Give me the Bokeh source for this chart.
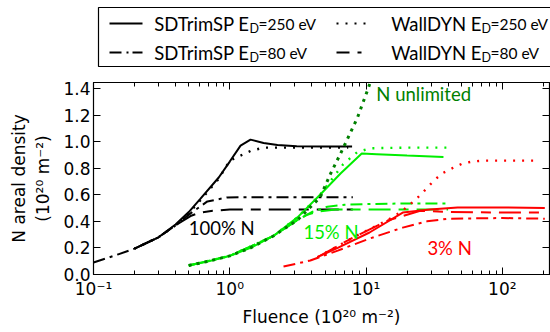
from bokeh.plotting import figure
from bokeh.models import (Range1d, FixedTicker, PrintfTickFormatter, CustomJSTickFormatter,
                          LogAxis, LinearAxis, ColumnDataSource)
from bokeh.layouts import column
from bokeh.core.properties import value
from bokeh.embed import file_html
from bokeh.resources import INLINE

# ---------------- data (fluence in 1e20 m^-2, N areal density in 1e20 m^-2) -------------
# 100 % N
n100_sd250_x = [0.2, 0.3, 0.4, 0.5, 0.61, 0.83, 1.0, 1.2, 1.42, 1.77, 2.24, 3.1, 5.0, 7.9]
n100_sd250_y = [0.195, 0.28, 0.376, 0.47, 0.571, 0.73, 0.85, 0.97, 1.015, 0.99, 0.975, 0.965, 0.963, 0.963]
n100_wd250_x = [0.2, 0.3, 0.4, 0.5, 0.61, 0.83, 1.0, 1.2, 1.42, 1.77, 2.5, 4.0, 7.4]
n100_wd250_y = [0.195, 0.28, 0.37, 0.46, 0.56, 0.72, 0.857, 0.895, 0.93, 0.955, 0.955, 0.955, 0.955]
n100_sd80_x = [0.1, 0.15, 0.2, 0.3, 0.4, 0.515, 0.685, 0.96, 1.5, 3.0, 8.0]
n100_sd80_y = [0.09, 0.15, 0.195, 0.28, 0.37, 0.46, 0.55, 0.58, 0.582, 0.582, 0.582]
n100_wd80_x = [0.2, 0.3, 0.4, 0.515, 0.6, 0.75, 1.0, 2.0, 8.0]
n100_wd80_y = [0.195, 0.28, 0.37, 0.44, 0.465, 0.48, 0.489, 0.489, 0.489]

# 15 % N
n15_unl_x = [0.5, 0.7, 1.0, 1.42, 2.09, 3.14, 4.6, 5.5, 6.5, 8.65, 10.2, 11.3]
n15_unl_y = [0.068, 0.1, 0.14, 0.2, 0.29, 0.41, 0.58, 0.76, 0.91, 1.18, 1.38, 1.51]
n15_sd250_x = [0.5, 0.7, 1.0, 1.42, 2.09, 3.14, 4.6, 6.5, 9.3, 12.0, 20.0, 37.0]
n15_sd250_y = [0.068, 0.1, 0.14, 0.2, 0.29, 0.43, 0.6, 0.76, 0.91, 0.905, 0.895, 0.885]
n15_wd250_x = [0.5, 1.0, 2.09, 3.14, 4.6, 6.8, 8.6, 10.7, 20.0, 40.0]
n15_wd250_y = [0.068, 0.14, 0.29, 0.43, 0.6, 0.83, 0.92, 0.95, 0.955, 0.955]
n15_sd80_x = [0.5, 1.0, 2.09, 3.14, 4.0, 5.2, 7.0, 10.0, 20.0, 40.0]
n15_sd80_y = [0.068, 0.14, 0.29, 0.41, 0.47, 0.51, 0.525, 0.53, 0.535, 0.535]
n15_wd80_x = [0.5, 1.0, 2.09, 3.14, 3.7, 4.5, 6.0, 10.0, 40.0]
n15_wd80_y = [0.068, 0.14, 0.29, 0.41, 0.45, 0.475, 0.489, 0.489, 0.489]

# 3 % N
n3_sd80_x = [2.48, 3.9, 6.2, 10.6, 18.6, 28.0, 40.0, 100.0, 205.0]
n3_sd80_y = [0.06, 0.105, 0.18, 0.27, 0.353, 0.4, 0.42, 0.425, 0.42]
n3_sd250_x = [4.6, 6.2, 10.6, 18.6, 29.5, 47.0, 100.0, 205.0]
n3_sd250_y = [0.14, 0.2, 0.316, 0.466, 0.49, 0.504, 0.505, 0.5]
n3_wd80_x = [4.4, 8.1, 14.4, 25.0, 40.0, 100.0, 205.0]
n3_wd80_y = [0.13, 0.28, 0.406, 0.48, 0.47, 0.466, 0.466]
n3_wd250_x = [4.4, 8.1, 14.4, 18.0, 21.2, 24.0, 28.0, 31.0, 36.0, 43.0, 51.0, 60.0, 72.0, 180.0]
n3_wd250_y = [0.13, 0.28, 0.41, 0.47, 0.53, 0.58, 0.65, 0.70, 0.76, 0.80, 0.835, 0.85, 0.857, 0.857]

# annotations
ann_text = ["100% N", "N unlimited", "15% N", "3% N"]
ann_x = [0.5, 11.9, 3.47, 28.2]
ann_y = [0.353, 1.36, 0.323, 0.203]

x_major = [0.1, 1, 10, 100]
x_minor = [0.2, 0.3, 0.4, 0.5, 0.6, 0.7, 0.8, 0.9, 2, 3, 4, 5, 6, 7, 8, 9,
           20, 30, 40, 50, 60, 70, 80, 90, 200]
y_major = [0.0, 0.2, 0.4, 0.6, 0.8, 1.0, 1.2, 1.4]

legend_labels = [("SDTrimSP E", "D", "=250 eV"), ("SDTrimSP E", "D", "=80 eV"),
                 ("WallDYN E", "D", "=250 eV"), ("WallDYN E", "D", "=80 eV")]

BLACK = "black"
DKGREEN = "#008000"
LIME = "#00ee00"
RED = "#ff0000"
SOLID = "solid"
DASHDOT = "12 5 3 5"
DOTTED = "2 7"
LONGDASH = "22 8 10 8"
LEG_DASHDOT = "12 5 2 4"
LEG_LONGDASH = "13 8 4 8"
LEG_FONT = "Lato"
TICK_FONT = "DejaVu Sans"

W = 550
FRAME_L = 93   # left border (px)
FRAME_R = 1    # right border (px)

# ---------------- legend figure (coordinates = page pixels) -----------------
LEG_H = 70
leg = figure(width=W, height=LEG_H, x_range=Range1d(FRAME_L, W),
             y_range=Range1d(LEG_H, 0), x_axis_type=None, y_axis_type=None,
             output_backend="svg", toolbar_location=None, min_border=0,
             min_border_left=FRAME_L, min_border_right=0, frame_align=False)
leg.outline_line_color = None
leg.grid.visible = False
leg.quad(left=[98], right=[570], top=[7], bottom=[66], fill_color=None,
         line_color="black", line_width=1.2)
rows = [23, 52]
samples = [(109, 142, rows[0], SOLID), (109, 142, rows[1], LEG_DASHDOT),
           (336, 368, rows[0], DOTTED), (336, 368, rows[1], LEG_LONGDASH)]
for x0, x1, yy, dash in samples:
    leg.line([x0, x1], [yy, yy], line_color="black", line_width=2.2, line_dash=dash)
# "E" ends where the subscript "D" starts
text_pos = [(249, rows[0]), (249, rows[1]), (481, rows[0]), (481, rows[1])]
for (a, b, c), (xd, yy) in zip(legend_labels, text_pos):
    leg.text([xd], [yy], text=[a], text_font=value(LEG_FONT), text_font_size="18.5px",
             text_baseline="middle", text_align="right", text_color="black")
    leg.text([xd], [yy + 5], text=[b], text_font=value(LEG_FONT), text_font_size="12.5px",
             text_baseline="middle", text_align="left", text_color="black")
    leg.text([xd + 9], [yy], text=[c], text_font=value(LEG_FONT), text_font_size="15.5px",
             text_baseline="middle", text_align="left", text_color="black")

# ---------------- main figure -----------------
p = figure(width=W, height=332 - LEG_H, x_axis_type="log", x_range=Range1d(0.1, 222),
           y_range=Range1d(0, 1.445), output_backend="svg", toolbar_location=None,
           min_border_left=FRAME_L, min_border_right=FRAME_R, min_border_top=12,
           min_border_bottom=58, frame_align=False)
p.grid.visible = False
p.outline_line_color = "black"
p.outline_line_width = 1.2
p.background_fill_color = "white"
p.border_fill_color = "white"

sup_code = """
const e = Math.round(Math.log10(tick));
const sup = {'-':'\u207b','0':'\u2070','1':'\u00b9','2':'\u00b2','3':'\u00b3','4':'\u2074',
             '5':'\u2075','6':'\u2076','7':'\u2077','8':'\u2078','9':'\u2079'};
return '10' + String(e).split('').map(c => sup[c]).join('');
"""

xa = p.xaxis[0]
xa.ticker = FixedTicker(ticks=x_major, minor_ticks=x_minor)
xa.formatter = CustomJSTickFormatter(code=sup_code)
ya = p.yaxis[0]
ya.ticker = FixedTicker(ticks=y_major)
ya.formatter = PrintfTickFormatter(format="%.1f")
xa.axis_label = "Fluence (10\u00b2\u2070 m\u207b\u00b2)"
ya.axis_label = "N areal density\n(10\u00b2\u2070 m\u207b\u00b2)"

top = LogAxis(ticker=FixedTicker(ticks=x_major, minor_ticks=x_minor),
              formatter=CustomJSTickFormatter(code="return '';"))
right = LinearAxis(ticker=FixedTicker(ticks=y_major),
                   formatter=CustomJSTickFormatter(code="return '';"))
p.add_layout(top, "above")
p.add_layout(right, "right")

for ax in [xa, ya, top, right]:
    ax.axis_line_color = "black"
    ax.major_tick_line_color = "black"
    ax.minor_tick_line_color = "black"
    ax.major_tick_in = 7
    ax.major_tick_out = 0
    ax.minor_tick_in = 4
    ax.minor_tick_out = 0
    ax.major_label_text_font = TICK_FONT
    ax.major_label_text_font_size = "17px"
    ax.major_label_text_color = "black"
    ax.axis_label_text_font = TICK_FONT
    ax.axis_label_text_font_size = "17px"
    ax.axis_label_text_font_style = "normal"
    ax.axis_label_text_color = "black"
for ax in [top, right]:
    ax.major_label_standoff = 0
    ax.major_label_text_font_size = "0px"
xa.major_label_standoff = 4
ya.major_label_standoff = 3
xa.axis_label_standoff = 5
ya.axis_label_standoff = 7

LW = 2.0
series = [
    (n100_sd80_x, n100_sd80_y, BLACK, DASHDOT, LW),
    (n100_wd80_x, n100_wd80_y, BLACK, LONGDASH, LW),
    (n100_wd250_x, n100_wd250_y, BLACK, DOTTED, 2.4),
    (n100_sd250_x, n100_sd250_y, BLACK, SOLID, LW),
    (n15_sd80_x, n15_sd80_y, LIME, DASHDOT, LW),
    (n15_wd80_x, n15_wd80_y, LIME, LONGDASH, LW),
    (n15_wd250_x, n15_wd250_y, LIME, DOTTED, 2.4),
    (n15_sd250_x, n15_sd250_y, LIME, SOLID, LW),
    (n15_unl_x, n15_unl_y, DKGREEN, "3 5", 3.0),
    (n3_sd80_x, n3_sd80_y, RED, DASHDOT, LW),
    (n3_wd80_x, n3_wd80_y, RED, LONGDASH, LW),
    (n3_wd250_x, n3_wd250_y, RED, DOTTED, 2.4),
    (n3_sd250_x, n3_sd250_y, RED, SOLID, LW),
]
for xs, ys, col, dash, lw in series:
    p.line(xs, ys, line_color=col, line_dash=dash, line_width=lw)

ann_src = ColumnDataSource(dict(x=ann_x, y=ann_y, text=ann_text,
                                color=[BLACK, DKGREEN, LIME, RED]))
p.text(x="x", y="y", text="text", text_color="color", source=ann_src,
       text_font=value(LEG_FONT), text_font_size="18.5px", text_baseline="middle",
       text_align="left")

layout = column(leg, p, spacing=0)
open("out.html", "w").write(file_html(layout, INLINE))
